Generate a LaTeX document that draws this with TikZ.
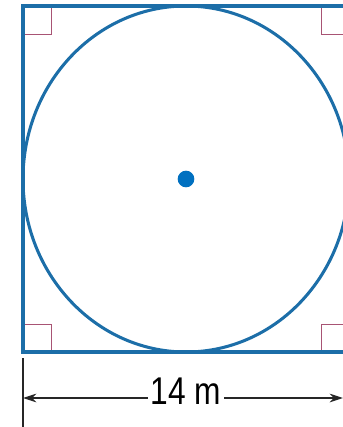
\documentclass[tikz,border=0pt]{standalone}
\usepackage{fontspec}
\setmainfont{Liberation Sans}
\usetikzlibrary{arrows.meta}
\definecolor{sideblue}{RGB}{28,110,168}
\definecolor{dotblue}{RGB}{0,112,192}
\definecolor{markred}{RGB}{168,84,116}

\begin{document}
\begin{tikzpicture}[x=0.03cm, y=-0.03cm,
  side/.style={draw=sideblue, line width=2.6pt},
  rightang/.style={draw=markred, line width=0.7pt},
  centerdot/.style={circle, fill=dotblue, minimum size=0.5cm, inner sep=0pt},
  dimline/.style={draw=black!85, line width=1pt, -{Stealth[length=4mm, width=2.6mm]}},
  lbl/.style={font=\fontsize{33}{33}\selectfont, xscale=0.82, inner sep=3pt}
]
  \useasboundingbox (0,0) rectangle (343,427);
  \clip (0,0) rectangle (343,427);
  \coordinate (TL) at (23,6);    \coordinate (TR) at (349,6);
  \coordinate (BL) at (23,352);  \coordinate (BR) at (349,352);
  % right angle marks
  \draw[rightang] (23,34) -- (51,34) -- (51,6);
  \draw[rightang] (321,6) -- (321,34) -- (349,34);
  \draw[rightang] (23,324) -- (51,324) -- (51,352);
  \draw[rightang] (349,324) -- (321,324) -- (321,352);
  \draw[side] (TL) -- (TR) -- (BR) -- (BL) -- cycle;
  \node[centerdot] (O) at (186,179) {};
  \draw[side] (O) ellipse [x radius=163, y radius=173];
  % dimension
  \draw[black!85, line width=1pt] (23,358) -- (23,427);
  \coordinate (DL) at (23,398);  \coordinate (DR) at (343,398);
  \node[lbl] (len) at (186,391) {14 m};
  \draw[dimline] (len.west |- DL) -- (DL);
  \draw[dimline] (len.east |- DR) -- (DR);
\end{tikzpicture}
\end{document}
